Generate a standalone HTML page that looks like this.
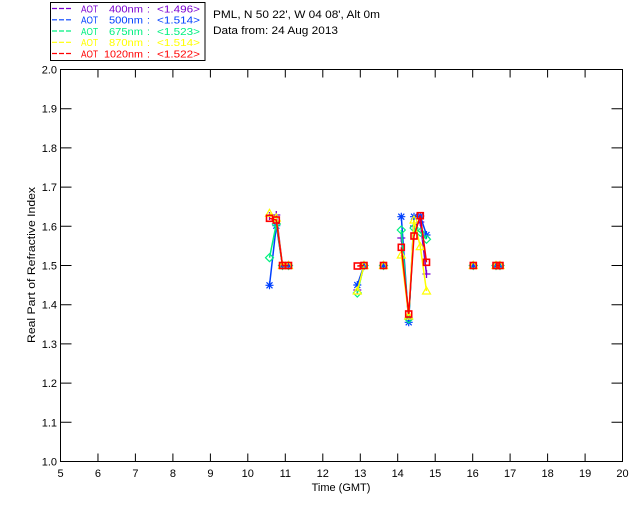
<!DOCTYPE html>
<html>
<head>
<meta charset="utf-8">
<style>
  html,body{margin:0;padding:0;background:#fff;}
  svg{display:block;}
  text{font-family:"Liberation Sans",sans-serif;}
</style>
</head>
<body>
<svg width="640" height="512" viewBox="0 0 640 512" xmlns="http://www.w3.org/2000/svg">
  <defs>
    <g id="pl"><path d="M-4,0H4M0,-4V4" stroke="#7a00d0" stroke-width="1.3" fill="none"/></g>
    <g id="as"><path d="M-4,0H4M0,-4V4M-3,-3L3,3M-3,3L3,-3" stroke="#0040ff" stroke-width="1.2" fill="none"/></g>
    <g id="di"><path d="M0,-4L4,0L0,4L-4,0Z" stroke="#00f080" stroke-width="1.2" fill="none"/></g>
    <g id="tr"><path d="M0,-4L4,3H-4Z" stroke="#ffff00" stroke-width="1.2" fill="none"/></g>
    <g id="sq"><rect x="-3" y="-3" width="6" height="6" stroke="#ff0000" stroke-width="1.6" fill="none"/></g>
  </defs>

  <!-- Legend box -->
  <rect x="50.5" y="2.5" width="154.5" height="58" fill="none" stroke="#000" stroke-width="1"/>
  <g stroke-width="1.2" stroke-dasharray="5,2">
    <line x1="52" y1="8.5" x2="72" y2="8.5" stroke="#7a00d0"/>
    <line x1="52" y1="19.8" x2="72" y2="19.8" stroke="#0040ff"/>
    <line x1="52" y1="31" x2="72" y2="31" stroke="#00f080"/>
    <line x1="52" y1="42.3" x2="72" y2="42.3" stroke="#ffff00"/>
    <line x1="52" y1="53.5" x2="72" y2="53.5" stroke="#ff0000"/>
  </g>
  <g font-size="10.5">
    <g fill="#7a00d0">
      <text x="81" y="12.3" textLength="17" lengthAdjust="spacingAndGlyphs">AOT</text>
      <text x="109" y="12.3" textLength="34" lengthAdjust="spacingAndGlyphs">400nm</text>
      <text x="147" y="12.3">:</text>
      <text x="157" y="12.3" textLength="43" lengthAdjust="spacingAndGlyphs">&lt;1.496&gt;</text>
    </g>
    <g fill="#0040ff">
      <text x="81" y="23.6" textLength="17" lengthAdjust="spacingAndGlyphs">AOT</text>
      <text x="109" y="23.6" textLength="34" lengthAdjust="spacingAndGlyphs">500nm</text>
      <text x="147" y="23.6">:</text>
      <text x="157" y="23.6" textLength="43" lengthAdjust="spacingAndGlyphs">&lt;1.514&gt;</text>
    </g>
    <g fill="#00f080">
      <text x="81" y="34.8" textLength="17" lengthAdjust="spacingAndGlyphs">AOT</text>
      <text x="109" y="34.8" textLength="34" lengthAdjust="spacingAndGlyphs">675nm</text>
      <text x="147" y="34.8">:</text>
      <text x="157" y="34.8" textLength="43" lengthAdjust="spacingAndGlyphs">&lt;1.523&gt;</text>
    </g>
    <g fill="#ffff00">
      <text x="81" y="46.1" textLength="17" lengthAdjust="spacingAndGlyphs">AOT</text>
      <text x="109" y="46.1" textLength="34" lengthAdjust="spacingAndGlyphs">870nm</text>
      <text x="147" y="46.1">:</text>
      <text x="157" y="46.1" textLength="43" lengthAdjust="spacingAndGlyphs">&lt;1.514&gt;</text>
    </g>
    <g fill="#ff0000">
      <text x="81" y="57.3" textLength="17" lengthAdjust="spacingAndGlyphs">AOT</text>
      <text x="104" y="57.3" textLength="39" lengthAdjust="spacingAndGlyphs">1020nm</text>
      <text x="147" y="57.3">:</text>
      <text x="157" y="57.3" textLength="43" lengthAdjust="spacingAndGlyphs">&lt;1.522&gt;</text>
    </g>
  </g>

  <!-- Site info -->
  <text x="213" y="18" font-size="11" fill="#000" textLength="167" lengthAdjust="spacingAndGlyphs">PML, N 50 22', W 04 08', Alt 0m</text>
  <text x="213" y="34" font-size="11" fill="#000" textLength="125" lengthAdjust="spacingAndGlyphs">Data from: 24 Aug 2013</text>

  <!-- Plot frame -->
  <rect x="60.5" y="69.5" width="562" height="392" fill="none" stroke="#000" stroke-width="1"/>

  <!-- X ticks -->
  <g stroke="#000" stroke-width="1">
    <path d="M97.97,461.5V453.5M135.4,461.5V453.5M172.9,461.5V453.5M210.4,461.5V453.5M247.8,461.5V453.5M285.3,461.5V453.5M322.8,461.5V453.5M360.3,461.5V453.5M397.7,461.5V453.5M435.2,461.5V453.5M472.7,461.5V453.5M510.1,461.5V453.5M547.6,461.5V453.5M585.1,461.5V453.5"/>
    <path d="M97.97,69.5V77.5M135.4,69.5V77.5M172.9,69.5V77.5M210.4,69.5V77.5M247.8,69.5V77.5M285.3,69.5V77.5M322.8,69.5V77.5M360.3,69.5V77.5M397.7,69.5V77.5M435.2,69.5V77.5M472.7,69.5V77.5M510.1,69.5V77.5M547.6,69.5V77.5M585.1,69.5V77.5"/>
    <!-- Y ticks -->
    <path d="M60.5,422.3H71.5M60.5,383.1H71.5M60.5,343.9H71.5M60.5,304.7H71.5M60.5,265.5H71.5M60.5,226.3H71.5M60.5,187.1H71.5M60.5,147.9H71.5M60.5,108.7H71.5"/>
    <path d="M622.5,422.3H611.5M622.5,383.1H611.5M622.5,343.9H611.5M622.5,304.7H611.5M622.5,265.5H611.5M622.5,226.3H611.5M622.5,187.1H611.5M622.5,147.9H611.5M622.5,108.7H611.5"/>
  </g>

  <!-- X tick labels -->
  <g font-size="11" fill="#000" text-anchor="middle">
    <text x="60.5" y="477">5</text>
    <text x="97.97" y="477">6</text>
    <text x="135.4" y="477">7</text>
    <text x="172.9" y="477">8</text>
    <text x="210.4" y="477">9</text>
    <text x="247.8" y="477">10</text>
    <text x="285.3" y="477">11</text>
    <text x="322.8" y="477">12</text>
    <text x="360.3" y="477">13</text>
    <text x="397.7" y="477">14</text>
    <text x="435.2" y="477">15</text>
    <text x="472.7" y="477">16</text>
    <text x="510.1" y="477">17</text>
    <text x="547.6" y="477">18</text>
    <text x="585.1" y="477">19</text>
    <text x="622.5" y="477">20</text>
  </g>
  <!-- Y tick labels -->
  <g font-size="11" fill="#000" text-anchor="end">
    <text x="57" y="465.5">1.0</text>
    <text x="57" y="426.3">1.1</text>
    <text x="57" y="387.1">1.2</text>
    <text x="57" y="347.9">1.3</text>
    <text x="57" y="308.7">1.4</text>
    <text x="57" y="269.5">1.5</text>
    <text x="57" y="230.3">1.6</text>
    <text x="57" y="191.1">1.7</text>
    <text x="57" y="151.9">1.8</text>
    <text x="57" y="112.7">1.9</text>
    <text x="57" y="73.5">2.0</text>
  </g>

  <!-- Axis titles -->
  <text x="341" y="491" font-size="11" fill="#000" text-anchor="middle">Time (GMT)</text>
  <text transform="translate(35,265) rotate(-90)" font-size="11" fill="#000" text-anchor="middle" textLength="156" lengthAdjust="spacingAndGlyphs">Real Part of Refractive Index</text>

  <!-- Series 400nm (purple) -->
  <g fill="none" stroke="#7a00d0" stroke-width="1.5">
    <polyline points="269.5,216 276.3,215 282.5,265.5 288.5,265.5"/>
    <polyline points="357.3,290 364,265.5"/>
    <polyline points="401.3,238 408.7,318 414,226 420.3,222 426.5,274"/>
    <polyline points="496,265.5 500,265.5"/>
  </g>
  <use href="#pl" x="269.5" y="216"/><use href="#pl" x="276.3" y="215"/><use href="#pl" x="282.5" y="265.5"/><use href="#pl" x="288.5" y="265.5"/>
  <use href="#pl" x="357.3" y="290"/><use href="#pl" x="364" y="265.5"/><use href="#pl" x="383.5" y="265.5"/>
  <use href="#pl" x="401.3" y="238"/><use href="#pl" x="408.7" y="318"/><use href="#pl" x="414" y="226"/><use href="#pl" x="420.3" y="222"/><use href="#pl" x="426.5" y="274"/>
  <use href="#pl" x="473.3" y="265.5"/><use href="#pl" x="496" y="265.5"/><use href="#pl" x="500" y="265.5"/>

  <!-- Series 500nm (blue) -->
  <g fill="none" stroke="#0040ff" stroke-width="1.5">
    <polyline points="269.5,285.3 276.3,225.7 282.5,265.5 288.5,265.5"/>
    <polyline points="357.3,285 364,265.5"/>
    <polyline points="401.3,216.7 408.7,322.3 414,216.7 420.3,216 426.5,235"/>
    <polyline points="496,265.5 500,265.5"/>
  </g>
  <use href="#as" x="269.5" y="285.3"/><use href="#as" x="276.3" y="225.7"/><use href="#as" x="282.5" y="265.5"/><use href="#as" x="288.5" y="265.5"/>
  <use href="#as" x="357.3" y="285"/><use href="#as" x="364" y="265.5"/><use href="#as" x="383.5" y="265.5"/>
  <use href="#as" x="401.3" y="216.7"/><use href="#as" x="408.7" y="322.3"/><use href="#as" x="414" y="216.7"/><use href="#as" x="420.3" y="216"/><use href="#as" x="426.5" y="235"/>
  <use href="#as" x="473.3" y="265.5"/><use href="#as" x="496" y="265.5"/><use href="#as" x="500" y="265.5"/>

  <!-- Series 675nm (green) -->
  <g fill="none" stroke="#00f080" stroke-width="1.5">
    <polyline points="269.5,257.7 276.3,224 282.5,265.5 288.5,265.5"/>
    <polyline points="357.3,293 364,265.5"/>
    <polyline points="401.3,230 408.7,319 414,228 420.3,232.3 426.5,239.3"/>
    <polyline points="496,265.5 500,265.5"/>
  </g>
  <use href="#di" x="269.5" y="257.7"/><use href="#di" x="276.3" y="224"/><use href="#di" x="282.5" y="265.5"/><use href="#di" x="288.5" y="265.5"/>
  <use href="#di" x="357.3" y="293"/><use href="#di" x="364" y="265.5"/><use href="#di" x="383.5" y="265.5"/>
  <use href="#di" x="401.3" y="230"/><use href="#di" x="408.7" y="319"/><use href="#di" x="414" y="228"/><use href="#di" x="420.3" y="232.3"/><use href="#di" x="426.5" y="239.3"/>
  <use href="#di" x="473.3" y="265.5"/><use href="#di" x="496" y="265.5"/><use href="#di" x="500" y="265.5"/>

  <!-- Series 870nm (yellow) -->
  <g fill="none" stroke="#ffff00" stroke-width="1.5">
    <polyline points="269.5,213.3 276.3,218 282.5,265.5 288.5,265.5"/>
    <polyline points="357.3,291 364,265.5"/>
    <polyline points="401.3,255 408.7,316 414,220 420.3,246.7 426.5,291"/>
    <polyline points="496,265.5 500,265.5"/>
  </g>
  <use href="#tr" x="269.5" y="213.3"/><use href="#tr" x="276.3" y="218"/><use href="#tr" x="282.5" y="265.5"/><use href="#tr" x="288.5" y="265.5"/>
  <use href="#tr" x="357.3" y="291"/><use href="#tr" x="364" y="265.5"/><use href="#tr" x="383.5" y="265.5"/>
  <use href="#tr" x="401.3" y="255"/><use href="#tr" x="408.7" y="316"/><use href="#tr" x="414" y="220"/><use href="#tr" x="420.3" y="246.7"/><use href="#tr" x="426.5" y="291"/>
  <use href="#tr" x="473.3" y="265.5"/><use href="#tr" x="496" y="265.5"/><use href="#tr" x="500" y="265.5"/>

  <!-- Series 1020nm (red) -->
  <g fill="none" stroke="#ff0000" stroke-width="1.5">
    <polyline points="269.5,218.3 276.3,220 282.5,265.5 288.5,265.5"/>
    <polyline points="357.3,266 364,265.5"/>
    <polyline points="401.3,247.3 408.7,314 414,236 420.3,215.7 426.5,262.3"/>
    <polyline points="496,265.5 500,265.5"/>
  </g>
  <use href="#sq" x="269.5" y="218.3"/><use href="#sq" x="276.3" y="220"/><use href="#sq" x="282.5" y="265.5"/><use href="#sq" x="288.5" y="265.5"/>
  <use href="#sq" x="357.3" y="266"/><use href="#sq" x="364" y="265.5"/><use href="#sq" x="383.5" y="265.5"/>
  <use href="#sq" x="401.3" y="247.3"/><use href="#sq" x="408.7" y="314"/><use href="#sq" x="414" y="236"/><use href="#sq" x="420.3" y="215.7"/><use href="#sq" x="426.5" y="262.3"/>
  <use href="#sq" x="473.3" y="265.5"/><use href="#sq" x="496" y="265.5"/><use href="#sq" x="500" y="265.5"/>
</svg>
</body>
</html>
